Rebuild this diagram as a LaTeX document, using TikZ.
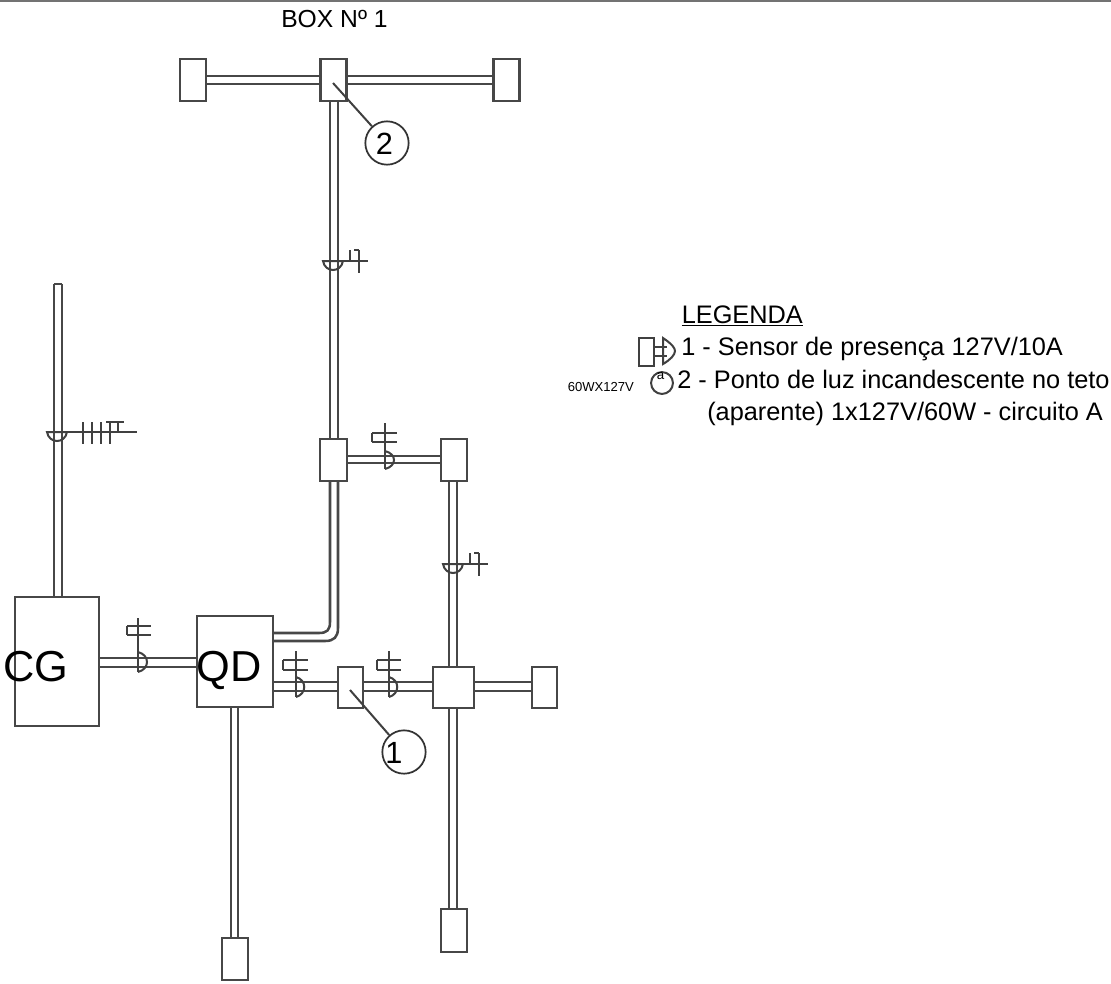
\documentclass[tikz,border=0pt]{standalone}
\usepackage{fontspec}
\setmainfont{Liberation Sans}
\tikzset{
  x=0.75pt,y=-0.75pt,
  wire/.style={draw=black!72,line width=1.9pt},
  thin wire/.style={draw=black!75,line width=1.5pt},
  box/.style={draw=black!72,line width=1.9pt,fill=white,inner sep=0pt},
  txt/.style={inner sep=0pt,anchor=base west,font=\fontsize{19}{22}\selectfont,text=black},
  big/.style={inner sep=0pt,anchor=base,font=\fontsize{32.5}{36}\selectfont,text=black},
  digit/.style={inner sep=0pt,anchor=base,font=\fontsize{23}{26}\selectfont,text=black},
  callout/.style={circle,draw=black!80,line width=1.3pt,minimum size=32.5pt,inner sep=0pt},
}
\newcommand{\hpipe}[4]{\draw[wire] (#1,#3) -- (#2,#3) (#1,#4) -- (#2,#4);}
\newcommand{\vpipe}[4]{\draw[wire] (#1,#3) -- (#1,#4) (#2,#3) -- (#2,#4);}
\newcommand{\hmark}[9]{
  \draw[thin wire] (#1,#5) -- (#1,#9);
  \draw[thin wire] (#1,#8) .. controls (#4,#8+3) and (#4,#9-3) .. (#1,#9);
  \draw[thin wire] (#2,#6) -- (#3,#6) (#2,#7) -- (#3,#7) (#2,#6) -- (#2,#7);
}
\newcommand{\varc}[2]{
  \draw[thin wire] (#1-10,#2) .. controls (#1-8,#2+12) and (#1+8,#2+12) .. (#1+10,#2) -- cycle;
}
\newcommand{\vmark}[2]{
  \varc{#1}{#2}
  \draw[thin wire] (#1+10,#2) -- (#1+35,#2);
  \draw[thin wire] (#1+26,#2-11) -- (#1+26,#2+12);
  \draw[thin wire] (#1+17,#2-11) -- (#1+17,#2);
  \draw[thin wire] (#1+21,#2-11) -- (#1+26,#2-11);
}
\begin{document}
\begin{tikzpicture}
\useasboundingbox (0,0) rectangle (1111,983);
\fill[white] (0,0) rectangle (1111,983);
\fill[black!55] (0,0) rectangle (1111,1.6);

\node[txt,font=\fontsize{18.5}{22}\selectfont] (title) at (281,27) {BOX Nº 1};

% conduits
\hpipe{206}{320}{76}{84}
\hpipe{347}{493}{76}{84}
\vpipe{330}{338}{101}{439}
\hpipe{347}{441}{456}{463}
\vpipe{449}{457}{481}{667}
\vpipe{449}{457}{708}{909}
\vpipe{54}{62}{284}{597}
\draw[wire] (54,284) -- (62,284);
\hpipe{99}{197}{658}{667}
\vpipe{231}{238}{707}{938}
\hpipe{273}{338}{682}{691}
\hpipe{363}{433}{682}{691}
\hpipe{474}{532}{682}{691}
\draw[wire] (330,481) -- (330,622) .. controls (330,630) and (327,633) .. (319,633) -- (273,633);
\draw[wire] (338,481) -- (338,628) .. controls (338,637) and (334,641) .. (325,641) -- (273,641);

% boxes
\node[box,minimum width=19.5pt,minimum height=31.5pt] (b1) at (193,80) {};
\node[box,minimum width=19.5pt,minimum height=31.5pt] (b2) at (333.5,80) {};
\node[box,minimum width=19.5pt,minimum height=31.5pt] (b3) at (506.5,80) {};
\node[box,minimum width=20pt,minimum height=31.5pt] (b4) at (333.5,460) {};
\node[box,minimum width=19.5pt,minimum height=31.5pt] (b5) at (454,460) {};
\node[box,minimum width=63pt,minimum height=96.75pt] (cg) at (57,661.5) {};
\node[box,minimum width=57pt,minimum height=68.25pt] (qd) at (235,661.5) {};
\node[box,minimum width=18.75pt,minimum height=30.75pt] (b6) at (350.5,687.5) {};
\node[box,minimum width=30.75pt,minimum height=30.75pt] (b7) at (453.5,687.5) {};
\node[box,minimum width=18.75pt,minimum height=30.75pt] (b8) at (544.5,687.5) {};
\node[box,minimum width=19.5pt,minimum height=32.25pt] (b9) at (454,930.5) {};
\node[box,minimum width=19.5pt,minimum height=31.5pt] (b10) at (235,959) {};

\node[big] (cgt) at (36,681) {CG};
\node[big] (qdt) at (229,681) {QD};

% wiring marks
\varc{57}{432}
\draw[thin wire] (67,432) -- (137,432);
\draw[thin wire] (83,422) -- (83,444) (92,422) -- (92,444) (101,422) -- (101,444) (110,422) -- (110,444);
\draw[thin wire] (106,422) -- (124,422) (118,422) -- (118,432);

\vmark{333}{261}
\vmark{453}{564}
\hmark{138}{127}{151}{150}{618}{626}{635}{652}{672}
\hmark{296}{283}{308}{307}{651}{660}{670}{677}{697}
\hmark{389}{377}{401}{400}{651}{660}{670}{677}{697}
\hmark{385}{372}{397}{397}{423}{433}{442}{451}{469}

% callouts
\node[callout] (c2) at (387,143) {};
\node[digit] (c2t) at (384.5,154) {2};
\draw[thin wire] (333,83) -- (c2);
\node[callout] (c1) at (404,752) {};
\node[digit] (c1t) at (394,763) {1};
\draw[thin wire] (350,690) -- (c1);

% legend
\draw[thin wire] (639,338) rectangle (654,366);
\draw[thin wire] (654,347) -- (667,347) (654,356) -- (667,356);
\draw[thin wire] (663,338) .. controls (672,344) and (675,348) .. (675,351) .. controls (675,355) and (670,360) .. (663,364) -- cycle;
\draw[thin wire] (662,383) circle (8.2pt);
\node[txt] (lg) at (681.5,323) {\underline{LEGENDA}};
\node[txt] (l1) at (681,355) {1 - Sensor de presença 127V/10A};
\node[txt] (l2) at (677,388) {2 - Ponto de luz incandescente no teto};
\node[txt] (l3) at (707,420) {(aparente) 1x127V/60W - circuito A};
\node[txt,font=\fontsize{9.8}{11}\selectfont] (s) at (567.5,391) {60WX127V};
\node[txt,font=\fontsize{10}{11}\selectfont] (a) at (656.5,379) {a};
\end{tikzpicture}
\end{document}
